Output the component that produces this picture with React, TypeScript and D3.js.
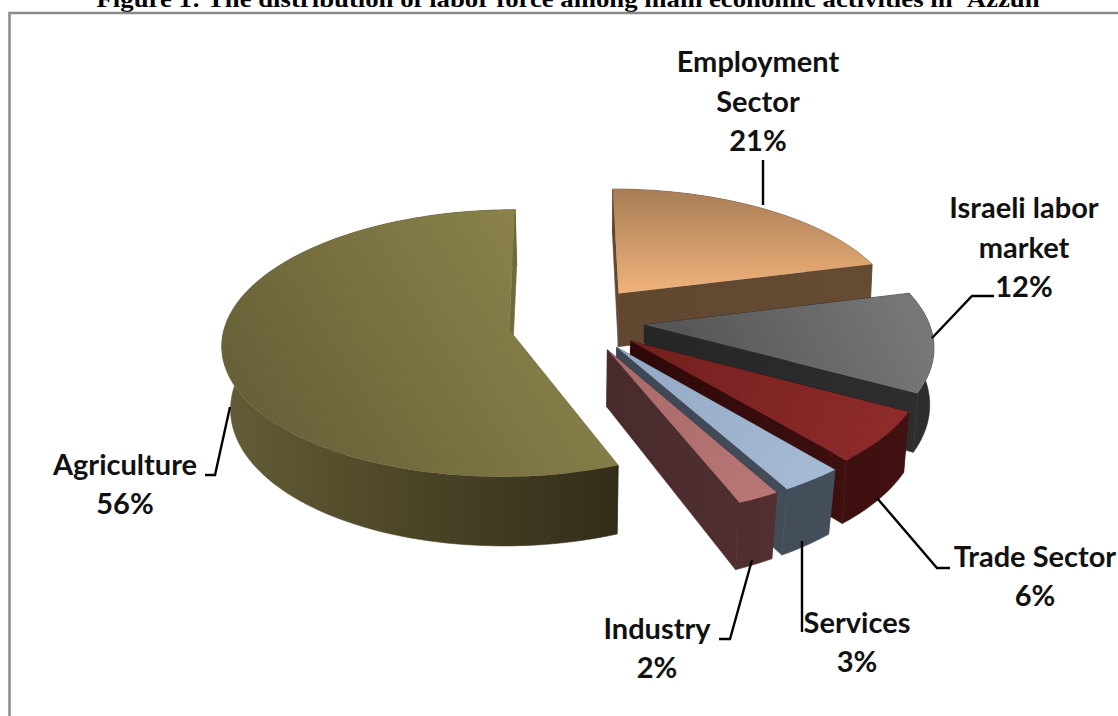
import React from "react";
import * as d3 from "d3";

const categories = ["Employment Sector", "Israeli labor market", "Trade Sector", "Services", "Industry", "Agriculture"];
const values = [21, 12, 6, 3, 2, 56];
const labelLines = [["Employment", "Sector", "21%"], ["Israeli labor", "market", "12%"], ["Trade Sector", "6%"], ["Services", "3%"], ["Industry", "2%"], ["Agriculture", "56%"]];
const titleText = "Figure 1: The distribution of labor force among main economic activities in 'Azzun";

const topStops = [
  ["#a67c55", "#f0b27a"], ["#777777", "#565656"], ["#741f1f", "#8f2b2b"],
  ["#93a8c4", "#a5b9d3"], ["#a86a6a", "#b87575"], ["#655e37", "#8a8249"],
];
const topDirs = [[0, 187, 0, 293], [900, 290, 700, 385], [650, 330, 900, 430], [620, 350, 800, 490], [610, 350, 770, 490], [240, 440, 540, 250]];
const wallStops = [
  ["#614630", "#664b34"], ["#262626", "#2e2e2e"], ["#2f0909", "#421111"],
  ["#3c4753", "#454f5c"], ["#492b2d", "#522f31"], ["#635c36", "#322d18"],
];
const wallDirs = [[620, 870], [650, 930], [640, 905], [620, 830], [610, 775], [225, 617]];

const labelAnchors = [[758, 72, 39.5], [1024, 218, 39.5], [1035, 567, 39], [857, 633, 38.5], [657, 639, 39], [125, 475, 39]];
const leaders = [
  [[763, 160], [763, 205]],
  [[994, 296], [972, 296], [932, 338]],
  [[877, 498], [937, 568], [950, 568]],
  [[802, 541], [802, 632]],
  [[752, 560], [730, 639], [719, 639]],
  [[230, 407], [215, 475], [205, 475]],
];

// projection parameters; the 3D look differs slightly per slice
const Ox = 578, Oy = 321, Rx = 284, Ry = 131, explode = 0.235;
const perspective = [0.18, 0.14, 0.145, 0.155, 0.155, 0.1];
const wallHeight = [55, 55, 55, 55, 55, 62];
const wallLean = [0.008, 0.012, 0.015, 0.025, 0.025, 0.025];
const nudgeX = [1, 0, 0, 0, 0, -3];
const nudgeY = [-4, 0, 0, 0, 0, 3];
const project = (i: number, X: number, D: number, h: number): [number, number] => {
  const s = 1 / (1 - perspective[i] * D);
  return [Ox + nudgeX[i] + X * Rx * s * (1 - wallLean[i] * h), Oy + nudgeY[i] + D * Ry * s + h * wallHeight[i] * s];
};

const arcs = d3.pie<number>().sort(null).startAngle(0).endAngle(2 * Math.PI)(values);
const closed = d3.line().curve(d3.curveLinearClosed);
const drawOrder = [0, 5, 1, 2, 3, 4];

const sliceGeometry = (i: number) => {
  const a = arcs[i];
  const mid = (a.startAngle + a.endAngle) / 2;
  const cx = Math.sin(mid) * explode, cd = -Math.cos(mid) * explode;
  const n = Math.max(6, Math.ceil((a.endAngle - a.startAngle) / 0.03));
  const thetas = d3.range(n + 1).map((k) => a.startAngle + ((a.endAngle - a.startAngle) * k) / n);
  const pt = (t: number, h: number) => project(i, cx + Math.sin(t), cd - Math.cos(t), h);
  const apex = (h: number) => project(i, cx, cd, h);
  const top = closed([apex(0), ...thetas.map((t) => pt(t, 0))])!;
  const wall = closed([...thetas.map((t) => pt(t, 0)), ...thetas.slice().reverse().map((t) => pt(t, 1))])!;
  const face = (t: number) => closed([apex(0), pt(t, 0), pt(t, 1), apex(1)])!;
  return { top, wall, f1: face(a.startAngle), f2: face(a.endAngle) };
};

export default function App() {
  const leaderLine = d3.line();
  return (
    <svg width={1118} height={716} style={{ position: "absolute", left: 0, top: 0, background: "#fff" }}>
      <defs>
        {categories.map((_, i) => (
          <React.Fragment key={i}>
            <linearGradient id={`t${i}`} gradientUnits="userSpaceOnUse" x1={topDirs[i][0]} y1={topDirs[i][1]} x2={topDirs[i][2]} y2={topDirs[i][3]}>
              <stop offset="0" stopColor={topStops[i][0]} />
              <stop offset="1" stopColor={topStops[i][1]} />
            </linearGradient>
            <linearGradient id={`w${i}`} gradientUnits="userSpaceOnUse" x1={wallDirs[i][0]} y1={0} x2={wallDirs[i][1]} y2={0}>
              <stop offset="0" stopColor={wallStops[i][0]} />
              <stop offset="1" stopColor={wallStops[i][1]} />
            </linearGradient>
          </React.Fragment>
        ))}
      </defs>
      <text x={568} y={7} textAnchor="middle" fontFamily="'Liberation Serif'" fontWeight={700} fontSize={24} textLength={943} lengthAdjust="spacingAndGlyphs" fill="#000">{titleText}</text>
      <path d="M9.5 717 V13 H1118" fill="none" stroke="#8a8a8a" strokeWidth={2.5} />
      {drawOrder.map((i) => {
        const g = sliceGeometry(i);
        const faceFill = i === 5 ? "#6f6a3a" : `url(#w${i})`;
        const wallFill = `url(#w${i})`;
        return (
          <g key={i}>
            <path d={g.f1} fill={faceFill} stroke={faceFill} strokeWidth={0.6} />
            <path d={g.wall} fill={wallFill} stroke={wallFill} strokeWidth={0.6} />
            <path d={g.f2} fill={faceFill} stroke={faceFill} strokeWidth={0.6} />
            <path d={g.top} fill={`url(#t${i})`} />
          </g>
        );
      })}
      {leaders.map((l, i) => (
        <path key={i} d={leaderLine(l as [number, number][])!} fill="none" stroke="#000" strokeWidth={2.4} />
      ))}
      {labelLines.map((lines, i) => (
        <text key={i} textAnchor="middle" fontFamily="Lato" fontWeight={700} fontSize={29} fill="#111">
          {lines.map((t, j) => (
            <tspan key={j} x={labelAnchors[i][0]} y={labelAnchors[i][1] + j * labelAnchors[i][2]}>{t}</tspan>
          ))}
        </text>
      ))}
    </svg>
  );
}
